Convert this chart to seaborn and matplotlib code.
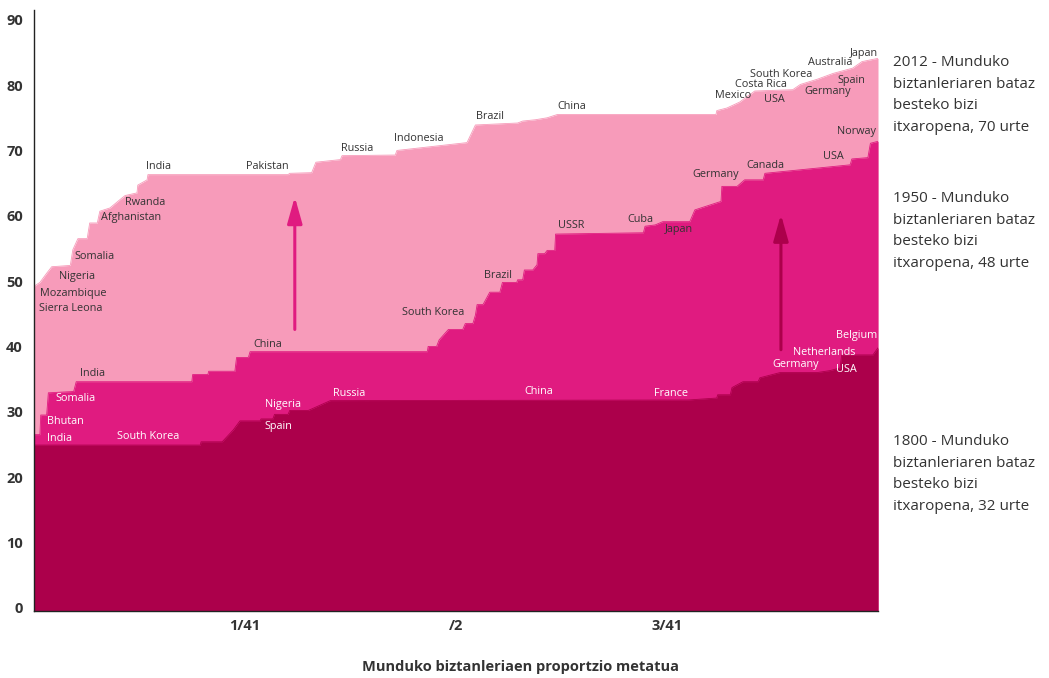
import numpy as np
import matplotlib
matplotlib.use("Agg")
import matplotlib.pyplot as plt
import seaborn as sns

# -------------------------------
# 1. DATA (cumulative share of world population vs life expectancy)
# -------------------------------
x_1800 = [0, 0.197, 0.198, 0.223, 0.236, 0.244, 0.268, 0.269, 0.283, 0.285, 0.301, 0.303,
          0.325, 0.351, 0.775, 0.809, 0.810, 0.825, 0.827, 0.840, 0.858, 0.860, 0.884,
          0.928, 0.943, 0.955, 0.957, 0.994, 1.0]
y_1800 = [24.9, 24.9, 25.4, 25.4, 27.2, 28.6, 28.6, 28.9, 28.9, 29.6, 29.6, 30.2,
          30.2, 31.7, 31.8, 32.1, 32.6, 32.6, 33.7, 34.6, 34.6, 35.2, 36.0,
          36.0, 36.3, 36.7, 38.7, 38.7, 39.8]

x_1950 = [0, 0.007, 0.008, 0.015, 0.017, 0.047, 0.050, 0.187, 0.188, 0.206, 0.207, 0.238,
          0.240, 0.254, 0.256, 0.466, 0.467, 0.477, 0.480, 0.491, 0.508, 0.511, 0.520,
          0.523, 0.525, 0.532, 0.540, 0.552, 0.555, 0.572, 0.573, 0.579, 0.581, 0.591,
          0.596, 0.597, 0.605, 0.608, 0.617, 0.618, 0.722, 0.724, 0.736, 0.745, 0.777,
          0.783, 0.814, 0.815, 0.833, 0.842, 0.864, 0.866, 0.967, 0.969, 0.988, 0.991, 1.0]
y_1950 = [26.5, 26.5, 29.5, 29.5, 32.9, 33.1, 34.6, 34.6, 35.7, 35.7, 36.2, 36.2,
          38.3, 38.3, 39.2, 39.2, 40.0, 40.0, 41.0, 42.6, 42.6, 43.5, 43.5,
          44.8, 46.4, 46.4, 48.3, 48.3, 49.8, 49.8, 50.2, 50.2, 51.7, 51.7,
          52.5, 54.2, 54.2, 54.7, 54.7, 57.2, 57.4, 58.4, 58.6, 59.1, 59.1,
          60.9, 62.2, 64.5, 64.5, 65.5, 65.5, 66.5, 67.8, 68.7, 68.9, 71.1, 71.4]

x_2012 = [0, 0.007, 0.015, 0.021, 0.043, 0.046, 0.052, 0.063, 0.066, 0.075, 0.078, 0.090,
          0.104, 0.108, 0.122, 0.123, 0.134, 0.135, 0.301, 0.303, 0.329, 0.334, 0.363,
          0.365, 0.428, 0.430, 0.513, 0.523, 0.573, 0.579, 0.594, 0.608, 0.620, 0.808,
          0.809, 0.821, 0.836, 0.854, 0.899, 0.908, 0.928, 0.947, 0.970, 0.981, 1.0]
y_2012 = [49.2, 49.8, 51.2, 52.2, 52.4, 54.8, 56.5, 56.5, 58.9, 58.9, 60.7, 61.2,
          62.7, 63.1, 63.5, 64.7, 65.5, 66.3, 66.3, 66.5, 66.6, 68.2, 68.6,
          69.2, 69.3, 70.0, 71.2, 73.9, 74.2, 74.5, 74.7, 75.0, 75.5, 75.5,
          76.1, 76.5, 77.4, 79.1, 79.3, 80.1, 80.9, 81.8, 82.6, 83.6, 84.1]

# country labels: (name, x, y)
dark_labels = [
    ("India", 0.147, 67.5), ("Pakistan", 0.277, 67.5), ("Russia", 0.383, 70.3),
    ("Indonesia", 0.456, 71.9), ("Brazil", 0.540, 75.2), ("China", 0.637, 76.7),
    ("Mexico", 0.828, 78.4), ("Costa Rica", 0.861, 80.1), ("South Korea", 0.885, 81.7),
    ("Australia", 0.943, 83.4), ("Japan", 0.983, 84.8), ("USA", 0.877, 77.8),
    ("Germany", 0.940, 79.1), ("Spain", 0.969, 80.7), ("Norway", 0.975, 72.9),
    ("Rwanda", 0.132, 62.0), ("Afghanistan", 0.115, 59.7), ("Somalia", 0.072, 53.7),
    ("Nigeria", 0.051, 50.7), ("Mozambique", 0.046, 48.1), ("Sierra Leona", 0.043, 45.8),
    ("China", 0.277, 40.3), ("South Korea", 0.473, 45.2), ("Brazil", 0.550, 50.8),
    ("USSR", 0.636, 58.5), ("Cuba", 0.718, 59.4), ("Japan", 0.764, 57.9),
    ("Germany", 0.808, 66.3), ("Canada", 0.866, 67.7), ("USA", 0.947, 69.0),
    ("India", 0.069, 35.8),
]
white_labels = [
    ("Somalia", 0.049, 32.0), ("Bhutan", 0.037, 28.5), ("India", 0.030, 25.9),
    ("South Korea", 0.135, 26.2), ("Nigeria", 0.295, 31.1), ("Spain", 0.290, 27.7),
    ("Russia", 0.373, 32.8), ("China", 0.598, 33.1), ("France", 0.755, 32.8),
    ("Germany", 0.902, 37.2), ("Netherlands", 0.936, 39.0), ("USA", 0.962, 36.4),
    ("Belgium", 0.975, 41.6),
]

xtick_pos = [0.25, 0.5, 0.75]
xtick_labels = ["1/41", "/2", "3/41"]
yticks = [0, 10, 20, 30, 40, 50, 60, 70, 80, 90]

right_notes = [
    "2012 - Munduko\nbiztanleriaren bataz\nbesteko bizi\nitxaropena, 70 urte",
    "1950 - Munduko\nbiztanleriaren bataz\nbesteko bizi\nitxaropena, 48 urte",
    "1800 - Munduko\nbiztanleriaren bataz\nbesteko bizi\nitxaropena, 32 urte",
]
note_top_px = [55, 191, 434]

c_light = "#f79bba"
c_mid = "#e01b80"
c_dark = "#ac004b"
c_text = "#333333"

# -------------------------------
# 2. PLOT
# -------------------------------
sns.set_style("white")
plt.rcParams['font.family'] = ['Open Sans', 'DejaVu Sans']

fig = plt.figure(figsize=(10.49, 6.78), dpi=100)
ax = fig.add_axes([34 / 1049, 67 / 678, 844 / 1049, 601 / 678])

for xs, ys, col in [(x_2012, y_2012, c_light), (x_1950, y_1950, c_mid), (x_1800, y_1800, c_dark)]:
    ax.fill_between(xs, ys, -1, color=col, linewidth=0)
    sns.lineplot(x=xs, y=ys, ax=ax, color=col, linewidth=0.6, sort=False, estimator=None)

for name, x, y in dark_labels:
    ax.text(x, y, name, ha="center", va="center", fontsize=7.8, color=c_text, clip_on=True)
for name, x, y in white_labels:
    ax.text(x, y, name, ha="center", va="center", fontsize=7.8, color="white", clip_on=True)

# arrows
ax.annotate("", xy=(0.309, 62.9), xytext=(0.309, 42.6),
            arrowprops=dict(arrowstyle="-|>,head_width=0.45,head_length=1.6",
                            color=c_mid, lw=2.2, shrinkA=0, shrinkB=0))
ax.annotate("", xy=(0.885, 60.2), xytext=(0.885, 39.5),
            arrowprops=dict(arrowstyle="-|>,head_width=0.45,head_length=1.6",
                            color=c_dark, lw=2.2, shrinkA=0, shrinkB=0))

ax.set_xlim(0, 1)
ax.set_ylim(-0.5, 91.5)
ax.set_yticks(yticks)
ax.set_yticklabels([str(v) for v in yticks], fontsize=10.5, fontweight="bold", color=c_text)
ax.set_xticks(xtick_pos)
ax.set_xticklabels(xtick_labels, fontsize=10.5, fontweight="bold", color=c_text)
ax.tick_params(axis="both", length=0, pad=8)
ax.tick_params(axis="x", pad=6)

sns.despine(ax=ax, top=True, right=True)
for side in ["left", "bottom"]:
    ax.spines[side].set_color("#222222")
    ax.spines[side].set_linewidth(1.0)

fig.text(520 / 1049, 1 - 667 / 678, "Munduko biztanleriaen proportzio metatua",
         ha="center", va="center", fontsize=10.5, fontweight="bold", color=c_text)

for note, top in zip(right_notes, note_top_px):
    fig.text(893 / 1049, 1 - top / 678, note, ha="left", va="top",
             fontsize=11, color=c_text, linespacing=1.6)

plt.savefig("out.png", dpi=100)
